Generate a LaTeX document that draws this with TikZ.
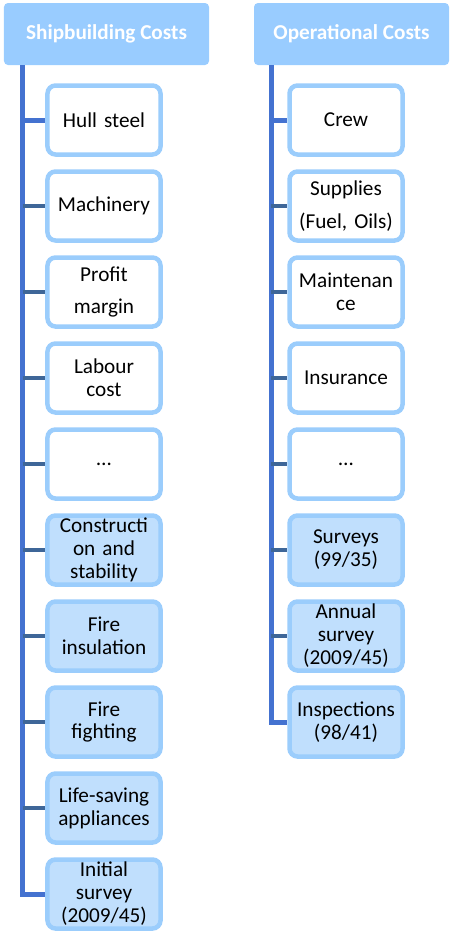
\documentclass[tikz,border=0pt]{standalone}
\usepackage{fontspec}
\setmainfont{Carlito}
\usepackage{xcolor}
\usetikzlibrary{positioning, calc}

\definecolor{headblue}{RGB}{153,204,255}
\definecolor{boxline}{RGB}{155,205,252}
\definecolor{boxfill}{RGB}{192,223,253}
\definecolor{trunkblue}{RGB}{68,114,208}
\definecolor{stubblue}{RGB}{62,102,152}

\tikzset{
  head/.style={fill=headblue, rounded corners=4bp, minimum height=62bp, inner sep=0pt,
    text=white, font=\bfseries\fontsize{21.3}{23}\selectfont},
  item/.style={draw=boxline, line width=4.5bp, rounded corners=8bp, fill=white,
    minimum width=111bp, minimum height=69bp, text width=113bp, align=center,
    inner sep=0pt, font=\fontsize{21.3}{23}\selectfont},
  itemb/.style={item, fill=boxfill},
  trunk/.style={trunkblue, line width=5bp},
  stub/.style={stubblue, line width=4bp}
}

\begin{document}
\begin{tikzpicture}[x=1bp, y=-1bp]
    \useasboundingbox (0,0) rectangle (451,934);

    \node[head, minimum width=205bp] (ship) at (106.5,34) {Shipbuilding Costs};
    \node[head, minimum width=195bp] (oper) at (351.5,34) {Operational Costs};

    \node[item]  (s1)  at (104,120) {Hull steel};
    \node[item]  (s2)  at (104,206) {Machinery};
    \node[item]  (s3)  at (104,292) {Profit\\[10bp]margin};
    \node[item]  (s4)  at (104,378) {Labour\\cost};
    \node[item]  (s5)  at (104,464) {…};
    \node[itemb] (s6)  at (104,550) {Constructi\\on and\\stability};
    \node[itemb] (s7)  at (104,636) {Fire\\insulation};
    \node[itemb] (s8)  at (104,722) {Fire\\fighting};
    \node[itemb] (s9)  at (104,808) {Life-saving\\appliances};
    \node[itemb] (s10) at (104,894) {Initial\\survey\\(2009/45)};

    \node[item]  (o1) at (346,120) {Crew};
    \node[item]  (o2) at (346,206) {Supplies\\[10bp](Fuel, Oils)};
    \node[item]  (o3) at (346,292) {Maintenan\\ce};
    \node[item]  (o4) at (346,378) {Insurance};
    \node[item]  (o5) at (346,464) {…};
    \node[itemb] (o6) at (346,550) {Surveys\\(99/35)};
    \node[itemb] (o7) at (346,636) {Annual\\survey\\(2009/45)};
    \node[itemb] (o8) at (346,722) {Inspections\\(98/41)};

    \coordinate (strunk) at (22.5,65);
    \coordinate (otrunk) at (271,65);

    \draw[trunk] (strunk) |- (s10.west);
    \draw[trunk] (strunk |- s1.west) -- (s1.west);
    \draw[stub] (strunk |- s2.west) -- (s2.west);
    \draw[stub] (strunk |- s3.west) -- (s3.west);
    \draw[stub] (strunk |- s4.west) -- (s4.west);
    \draw[stub] (strunk |- s5.west) -- (s5.west);
    \draw[stub] (strunk |- s6.west) -- (s6.west);
    \draw[stub] (strunk |- s7.west) -- (s7.west);
    \draw[stub] (strunk |- s8.west) -- (s8.west);
    \draw[stub] (strunk |- s9.west) -- (s9.west);

    \draw[trunk] (otrunk) |- (o8.west);
    \draw[trunk] (otrunk |- o1.west) -- (o1.west);
    \draw[stub] (otrunk |- o2.west) -- (o2.west);
    \draw[stub] (otrunk |- o3.west) -- (o3.west);
    \draw[stub] (otrunk |- o4.west) -- (o4.west);
    \draw[stub] (otrunk |- o5.west) -- (o5.west);
    \draw[stub] (otrunk |- o6.west) -- (o6.west);
    \draw[stub] (otrunk |- o7.west) -- (o7.west);
\end{tikzpicture}
\end{document}
